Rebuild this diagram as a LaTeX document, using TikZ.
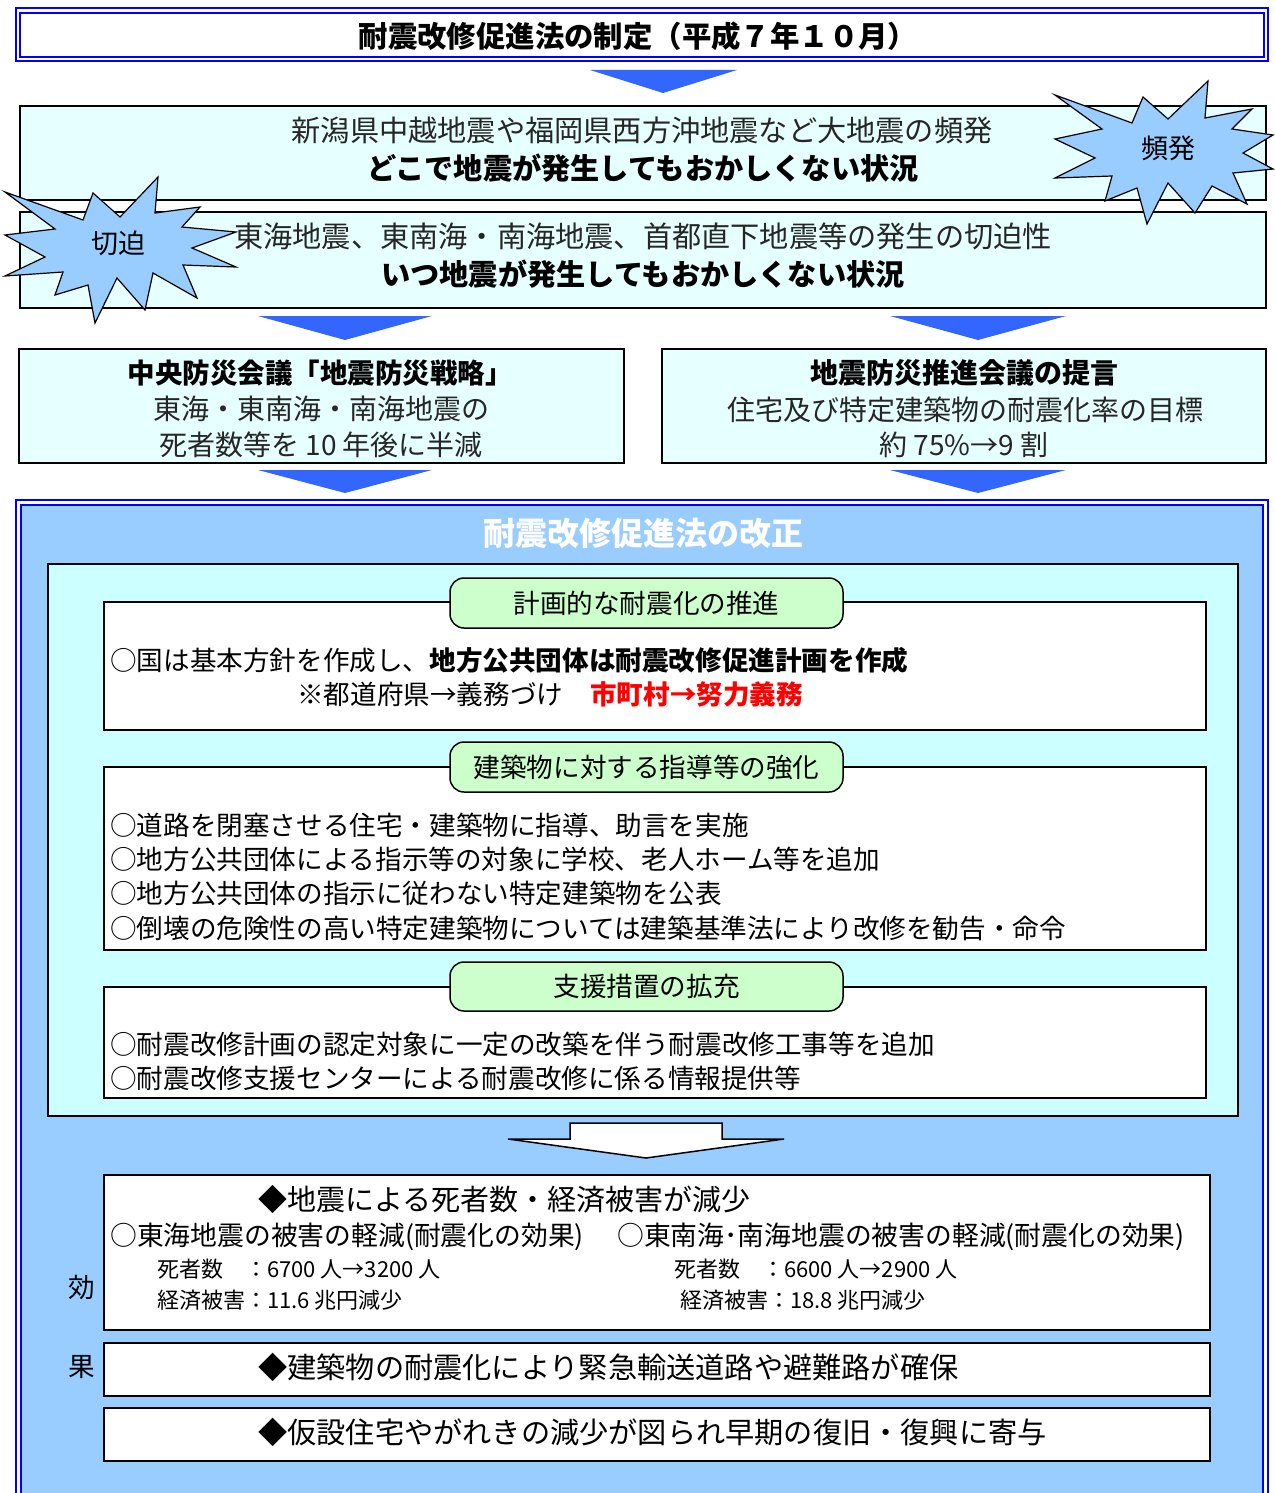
\documentclass[tikz,border=0pt]{standalone}
\usepackage{fontspec}
\setmainfont{Noto Sans CJK JP}
\definecolor{boxcyan}{HTML}{E6FFFF}
\definecolor{burstblue}{HTML}{99CCFF}
\definecolor{triblue}{HTML}{3366FF}
\definecolor{bigfill}{HTML}{99CCFF}
\definecolor{innercyan}{HTML}{CCFFFF}
\definecolor{labelgreen}{HTML}{CCFFCC}
\definecolor{dblue}{HTML}{0000FF}
\newcommand\jsz[1]{\fontsize{#1pt}{#1pt}\selectfont}
\begin{document}
\begin{tikzpicture}[x=1pt,y=-1pt,
  cbox/.style={draw=black,line width=1.5pt,fill=boxcyan,inner sep=0pt},
  wbox/.style={draw=black,line width=1.5pt,fill=white,inner sep=0pt},
  lbl/.style={draw=black,line width=1.5pt,fill=labelgreen,rounded corners=14pt,inner sep=0pt,font=\jsz{26.6}},
  txt/.style={inner sep=0pt,font=\jsz{26.6}},
  ltxt/.style={txt,anchor=west},
  trishape/.style={fill=triblue,draw=none},
  burst/.style={draw=black,line width=1.2pt,fill=burstblue,line join=miter},
  dframe/.style={draw=dblue,line width=2.5pt},
  dframein/.style={draw=dblue,line width=1.5pt}
]
\useasboundingbox (0,0) rectangle (1274,1493);
\fill[white] (0,0) rectangle (1274,1493);

% title
\node[dframe,fill=white,minimum width=1252pt,minimum height=53pt,inner sep=0pt] (tout) at (642,34.5) {};
\node[dframein,minimum width=1244pt,minimum height=44pt,inner sep=0pt] (tin) at (642,35) {};
\node[txt,font=\jsz{29.4}\bfseries] (ttl) at (638,36) {耐震改修促進法の制定（平成７年１０月）};

\fill[trishape] (590,70) -- (737,70) -- (663,93) -- cycle;

% box 1 and 2
\node[cbox,minimum width=1246pt,minimum height=94pt] (b1) at (643,153) {};
\node[txt,font=\jsz{29.2},text=black!85] (b1a) at (642,130) {新潟県中越地震や福岡県西方沖地震など大地震の頻発};
\node[txt,font=\jsz{29.2}\bfseries] (b1b) at (643,168) {どこで地震が発生してもおかしくない状況};
\node[cbox,minimum width=1246pt,minimum height=96pt] (b2) at (643,260) {};
\node[txt,font=\jsz{29.2},text=black!85] (b2a) at (643,236) {東海地震、東南海・南海地震、首都直下地震等の発生の切迫性};
\node[txt,font=\jsz{29.2}\bfseries] (b2b) at (643,274) {いつ地震が発生してもおかしくない状況};

% bursts
\draw[burst] (1055,95) -- (1132,123) -- (1143,97) -- (1168,119) -- (1208,81) -- (1205,118)
  -- (1252,109) -- (1232,129) -- (1273,135) -- (1243,153) -- (1273,169) -- (1233,173)
  -- (1247,204) -- (1212,186) -- (1195,213) -- (1168,183) -- (1147,224) -- (1137,188)
  -- (1105,201) -- (1112,176) -- (1055,178) -- (1095,158) -- (1055,139) -- (1102,129) -- cycle;
\node[txt,font=\jsz{27}] (hin) at (1168,148) {頻発};
\draw[burst] (5,192) -- (83,220) -- (93,193) -- (120,217) -- (158,177) -- (155,213)
  -- (200,207) -- (182,227) -- (236,232) -- (192,248) -- (236,267) -- (183,265)
  -- (197,298) -- (153,273) -- (145,310) -- (117,278) -- (95,323) -- (88,285)
  -- (55,295) -- (63,272) -- (5,276) -- (45,257) -- (5,235) -- (55,229) -- cycle;
\node[txt,font=\jsz{27}] (sep) at (118,243) {切迫};

\fill[trishape] (258,316) -- (432,316) -- (345,340) -- cycle;
\fill[trishape] (890,316) -- (1066,316) -- (978,340) -- cycle;

% box 3 and 4
\node[cbox,minimum width=605pt,minimum height=114pt] (b3) at (321.5,406) {};
\node[txt,font=\jsz{27.5}\bfseries] (b3a) at (320,373) {中央防災会議「地震防災戦略」};
\node[txt,font=\jsz{28},text=black!85] (b3b) at (321,409) {東海・東南海・南海地震の};
\node[txt,font=\jsz{28},text=black!85] (b3c) at (321,445) {死者数等を 10 年後に半減};
\node[cbox,minimum width=604pt,minimum height=114pt] (b4) at (964,406) {};
\node[txt,font=\jsz{28}\bfseries] (b4a) at (964,373) {地震防災推進会議の提言};
\node[txt,font=\jsz{28},text=black!85] (b4b) at (965,410) {住宅及び特定建築物の耐震化率の目標};
\node[txt,font=\jsz{28},text=black!85] (b4c) at (964,445) {約 75\%→9 割};

\fill[trishape] (258,470) -- (432,470) -- (345,493) -- cycle;
\fill[trishape] (890,470) -- (1066,470) -- (978,493) -- cycle;

% big box
\node[dframe,fill=white,minimum width=1252pt,minimum height=1010pt,inner sep=0pt] (bigout) at (642,1005) {};
\node[dframein,fill=bigfill,minimum width=1242pt,minimum height=1005pt,inner sep=0pt] (bigin) at (642,1007.5) {};
\node[txt,font=\jsz{32}\bfseries,text=white] (kaisei) at (643,533) {耐震改修促進法の改正};

\node[draw=black,line width=1.5pt,fill=innercyan,minimum width=1190pt,minimum height=552pt,inner sep=0pt] (inner) at (643,840) {};

% section 1
\node[wbox,minimum width=1102pt,minimum height=128pt] (s1) at (655,666) {};
\node[lbl,minimum width=393pt,minimum height=50pt] (l1) at (646.5,603) {計画的な耐震化の推進};
\node[ltxt] (s1a) at (110,660) {○国は基本方針を作成し、\textbf{地方公共団体は耐震改修促進計画を作成}};
\node[ltxt] (s1b) at (297,694) {※都道府県→義務づけ};
\node[ltxt,text=red,font=\jsz{26.6}\bfseries] (s1c) at (590,694) {市町村→努力義務};

% section 2
\node[wbox,minimum width=1102pt,minimum height=183pt] (s2) at (655,858.5) {};
\node[lbl,minimum width=393pt,minimum height=50pt] (l2) at (646.5,767) {建築物に対する指導等の強化};
\node[ltxt] (s2a) at (110,825) {○道路を閉塞させる住宅・建築物に指導、助言を実施};
\node[ltxt] (s2b) at (110,859) {○地方公共団体による指示等の対象に学校、老人ホーム等を追加};
\node[ltxt] (s2c) at (110,893) {○地方公共団体の指示に従わない特定建築物を公表};
\node[ltxt] (s2d) at (110,928) {○倒壊の危険性の高い特定建築物については建築基準法により改修を勧告・命令};

% section 3
\node[wbox,minimum width=1102pt,minimum height=111pt] (s3) at (655,1042.5) {};
\node[lbl,minimum width=393pt,minimum height=49pt] (l3) at (646.5,986.5) {支援措置の拡充};
\node[ltxt] (s3a) at (110,1044) {○耐震改修計画の認定対象に一定の改築を伴う耐震改修工事等を追加};
\node[ltxt] (s3b) at (110,1078) {○耐震改修支援センターによる耐震改修に係る情報提供等};

% white block arrow
\draw[draw=black,line width=1.5pt,fill=white] (570,1123) -- (722,1123) -- (722,1139) -- (784,1139)
  -- (646,1158) -- (508,1139) -- (570,1139) -- cycle;

% effects
\node[wbox,minimum width=1106pt,minimum height=155pt] (e1) at (657,1252.5) {};
\node[ltxt,font=\jsz{29}] (e1a) at (258,1199) {◆地震による死者数・経済被害が減少};
\node[ltxt,font=\jsz{26.8}] (e1b) at (110,1237) {○東海地震の被害の軽減(耐震化の効果)};
\node[ltxt,font=\jsz{26.8}] (e1c) at (617,1237) {○東南海･南海地震の被害の軽減(耐震化の効果)};
\node[ltxt,font=\jsz{22}] (e1d) at (157,1269) {死者数　：6700 人→3200 人};
\node[ltxt,font=\jsz{22}] (e1e) at (157,1300) {経済被害：11.6 兆円減少};
\node[ltxt,font=\jsz{22}] (e1f) at (674,1269) {死者数　：6600 人→2900 人};
\node[ltxt,font=\jsz{22}] (e1g) at (680,1300) {経済被害：18.8 兆円減少};
\node[wbox,minimum width=1106pt,minimum height=53pt] (e2) at (657,1369.5) {};
\node[ltxt,font=\jsz{29.2}] (e2a) at (258,1367) {◆建築物の耐震化により緊急輸送道路や避難路が確保};
\node[wbox,minimum width=1106pt,minimum height=53pt] (e3) at (657,1434.5) {};
\node[ltxt,font=\jsz{29.2}] (e3a) at (258,1432) {◆仮設住宅やがれきの減少が図られ早期の復旧・復興に寄与};
\node[txt] (kou) at (82,1287) {効};
\node[txt] (ka) at (82,1367) {果};
\end{tikzpicture}
\end{document}
